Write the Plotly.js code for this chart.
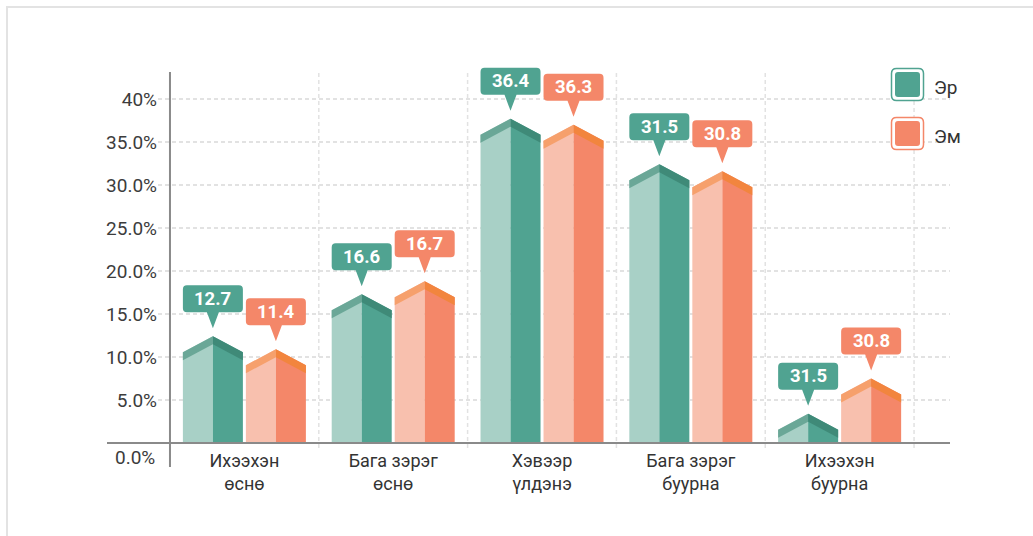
<!DOCTYPE html>
<html>
<head>
<meta charset="utf-8">
<script src="https://cdn.plot.ly/plotly-3.0.1.min.js"></script>
<style>
  html, body { margin: 0; padding: 0; background: #ffffff; }
  #frame { position: absolute; left: 6px; top: 6px; width: 1027px; height: 530px;
           border-top: 2px solid #e3e3e3; border-left: 2px solid #e3e3e3; }
  #chart { position: absolute; left: 0; top: 0; width: 1033px; height: 536px; }
</style>
</head>
<body>
<div id="frame"></div>
<div id="chart"></div>
<script>
// ---- data ----
const categoryLabels = ["Ихээхэн<br>өснө", "Бага зэрэг<br>өснө", "Хэвээр<br>үлдэнэ", "Бага зэрэг<br>буурна", "Ихээхэн<br>буурна"];
const seriesNames = ["Эр", "Эм"];
const erValues = [12.4, 17.3, 37.7, 32.4, 3.4];
const emValues = [10.9, 18.8, 37.0, 31.6, 7.5];
const erLabels = ["12.7", "16.6", "36.4", "31.5", "31.5"];
const emLabels = ["11.4", "16.7", "36.3", "30.8", "30.8"];
const yTickVals = [5, 10, 15, 20, 25, 30, 35, 40];
const yTickText = ["5.0%", "10.0%", "15.0%", "20.0%", "25.0%", "30.0%", "35.0%", "40%"];
const zeroLabel = "0.0%";

// ---- layout geometry ----
const W = 1033, H = 536;
const mL = 158, mR = 83, mT = 40, mB = 88;
const plotW = W - mL - mR, plotH = H - mT - mB;
const gridTop = 72;                       // top of axis / separators in px
const xRange = [-0.5 - 12 / 149, 4.5 + 36 / 149];
const yRange = [-5 / 8.6, (443 - mT) / 8.6];
const pxX = plotW / (xRange[1] - xRange[0]);
const pxY = plotH / (yRange[1] - yRange[0]);
const FONT = "Roboto, Noto Sans, sans-serif";

const styles = [
  { light: "#a8d0c6", dark: "#50a391", bandL: "#6aa797", bandR: "#3f8a78", box: "#50a391" },
  { light: "#f8c0ae", dark: "#f48769", bandL: "#f6a06c", bandR: "#f2853e", box: "#f48769" }
];
const seriesVals = [erValues, emValues];
const seriesLabels = [erLabels, emLabels];

const halfW = 30 / pxX;      // half bar width
const offs = 31.5 / pxX;     // bar center offset from category center
const rise = 16 / pxY;       // roof rise
const band = 8 / pxY;        // roof band thickness

const traces = [];
const shapes = [];
const annotations = [];

function poly(xs, ys, color) {
  traces.push({
    type: "scatter", mode: "lines", x: xs.concat([xs[0]]), y: ys.concat([ys[0]]),
    fill: "toself", fillcolor: color, line: { width: 0, color: color },
    hoverinfo: "skip", showlegend: false
  });
}

seriesVals.forEach((vals, s) => {
  const st = styles[s];
  vals.forEach((v, i) => {
    const xc = i + (s === 0 ? -offs : offs);
    const x0 = xc - halfW, x1 = xc + halfW;
    const p = v, e = v - rise;
    poly([x0, x0, xc, xc], [0, e, p, 0], st.light);
    poly([xc, xc, x1, x1], [0, p, e, 0], st.dark);
    poly([x0, x0, xc, xc], [e - band, e, p, p - band], st.bandL);
    poly([xc, xc, x1, x1], [p - band, p, e, e - band], st.bandR);
    // callout
    shapes.push({
      type: "path", xref: "x", yref: "y",
      xsizemode: "pixel", ysizemode: "pixel", xanchor: xc, yanchor: p,
      path: "M -30,28 L -30,47 Q -30,51 -26,51 L 26,51 Q 30,51 30,47 L 30,28 Q 30,24 26,24 L 6,24 L 0,8 L -6,24 L -26,24 Q -30,24 -30,28 Z",
      fillcolor: st.box, line: { width: 0 }, layer: "above"
    });
    annotations.push({
      x: xc, y: p, xref: "x", yref: "y", yshift: 37.5, showarrow: false,
      text: seriesLabels[s][i], xanchor: "center", yanchor: "middle",
      font: { family: FONT, size: 18.5, color: "#ffffff", weight: "bold" }
    });
  });
});

// vertical dashed category separators
const sepTop = (H - mB - gridTop) / plotH;
for (let k = 0; k < categoryLabels.length; k++) {
  shapes.push({ type: "line", xref: "x", yref: "paper", x0: k + 0.5, x1: k + 0.5, y0: 0.0, y1: sepTop,
    line: { color: "#e2e2e2", width: 1.5, dash: "4px,3px" }, layer: "below" });
}
// baseline and y axis line
shapes.push({ type: "line", xref: "paper", yref: "y", x0: (107 - mL) / plotW, x1: 1, y0: 0, y1: 0,
  line: { color: "#8a8a8a", width: 2 }, layer: "above" });
shapes.push({ type: "line", xref: "x", yref: "paper", x0: -0.5, x1: -0.5, y0: -19 / plotH, y1: sepTop,
  line: { color: "#8a8a8a", width: 2 }, layer: "above" });

// zero label
annotations.push({ xref: "paper", yref: "paper", x: -1 / plotW, y: -10 / plotH, xanchor: "right", yanchor: "middle",
  showarrow: false, text: zeroLabel, font: { family: FONT, size: 19, color: "#3c3c3c" } });

// legend
const legendY = [84.5, 133.5];
seriesNames.forEach((name, s) => {
  const st = styles[s];
  const xa = (907.5 - mL) / plotW, ya = (H - mB - legendY[s]) / plotH;
  shapes.push({ type: "path", xref: "paper", yref: "paper", xsizemode: "pixel", ysizemode: "pixel",
    xanchor: xa, yanchor: ya,
    path: "M -16,-11 L -16,11 Q -16,16 -11,16 L 11,16 Q 16,16 16,11 L 16,-11 Q 16,-16 11,-16 L -11,-16 Q -16,-16 -16,-11 Z",
    fillcolor: "#ffffff", line: { color: st.box, width: 1.5 }, layer: "above" });
  shapes.push({ type: "path", xref: "paper", yref: "paper", xsizemode: "pixel", ysizemode: "pixel",
    xanchor: xa, yanchor: ya,
    path: "M -12.5,-9.5 L -12.5,9.5 Q -12.5,12.5 -9.5,12.5 L 9.5,12.5 Q 12.5,12.5 12.5,9.5 L 12.5,-9.5 Q 12.5,-12.5 9.5,-12.5 L -9.5,-12.5 Q -12.5,-12.5 -12.5,-9.5 Z",
    fillcolor: st.box, line: { width: 0 }, layer: "above" });
  annotations.push({ xref: "paper", yref: "paper", x: (932 - mL) / plotW, y: ya, yshift: -3, xanchor: "left", yanchor: "middle",
    showarrow: false, text: name, font: { family: FONT, size: 19, color: "#333" } });
});

const layout = {
  width: W, height: H, autosize: false,
  margin: { l: mL, r: mR, t: mT, b: mB, pad: 0 },
  paper_bgcolor: "rgba(0,0,0,0)", plot_bgcolor: "rgba(0,0,0,0)",
  showlegend: false,
  xaxis: {
    range: xRange, tickmode: "array", tickvals: [0, 1, 2, 3, 4], ticktext: categoryLabels,
    showgrid: false, zeroline: false, showline: false, ticks: "",
    tickfont: { family: FONT, size: 18, color: "#333" }, fixedrange: true
  },
  yaxis: {
    range: yRange, tickmode: "array", tickvals: yTickVals, ticktext: yTickText,
    showgrid: true, gridcolor: "#e2e2e2", gridwidth: 1.5, griddash: "4px,3px",
    zeroline: false, showline: false, ticks: "",
    tickfont: { family: FONT, size: 19, color: "#3c3c3c" }, fixedrange: true
  },
  shapes: shapes,
  annotations: annotations
};

Plotly.newPlot("chart", traces, layout, { staticPlot: true, displayModeBar: false });
</script>
</body>
</html>
